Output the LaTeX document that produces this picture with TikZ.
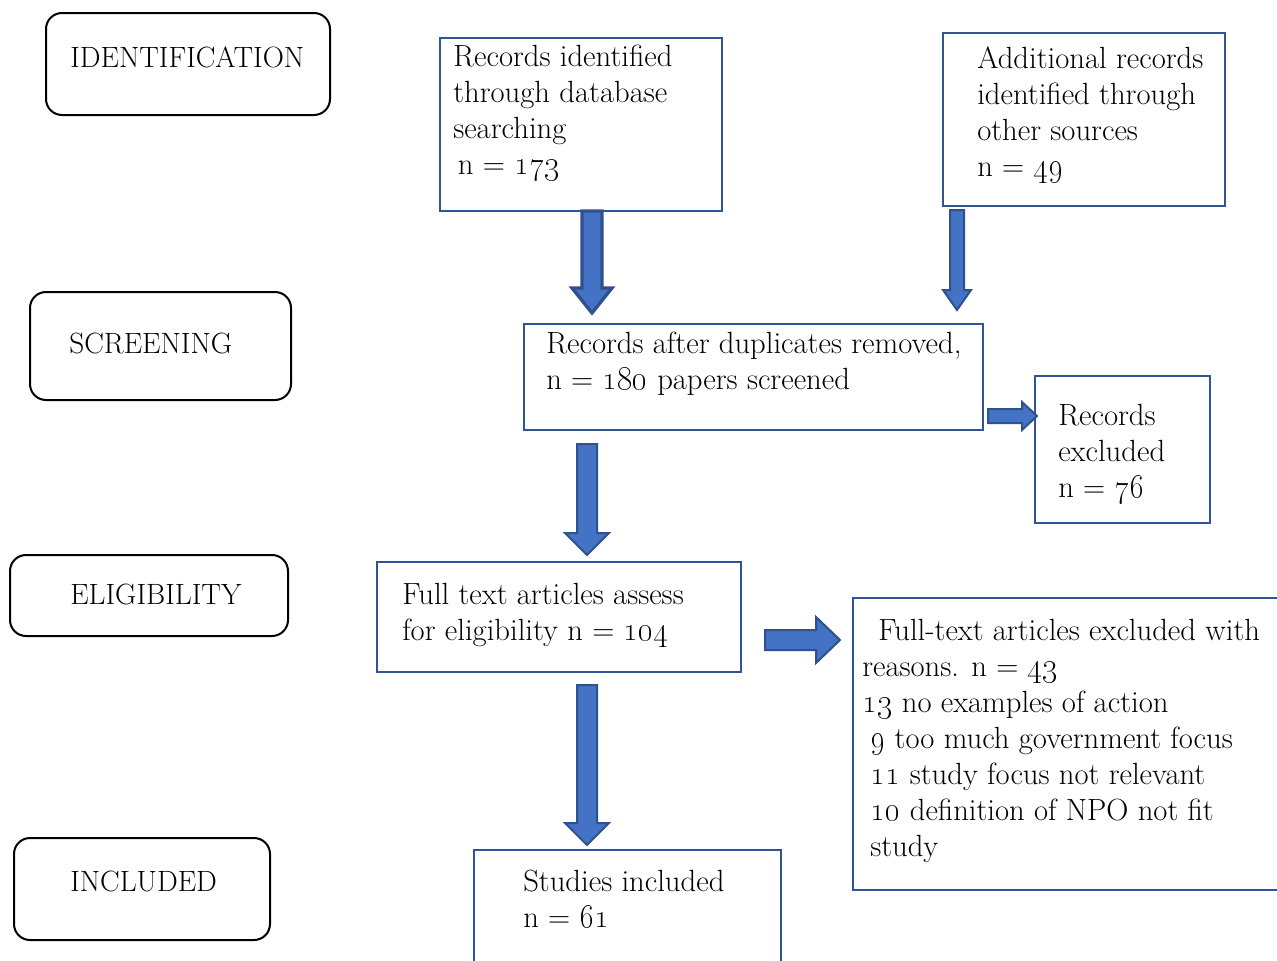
\documentclass[tikz,border=0pt]{standalone}
\usetikzlibrary{calc}

\definecolor{frameblue}{RGB}{47,85,151}
\definecolor{arrowfill}{RGB}{68,114,196}
\definecolor{arrowedge}{RGB}{47,82,143}

\newcommand\osn[1]{\oldstylenums{#1}}

% block arrow: [options]{start}{end}{shaft half width}{head half width}{head length}
\newcommand\blockarrow[6][]{%
  \path ($(#3)!#6!(#2)$) coordinate (ba-h);
  \draw[blockarrow,#1] ($(#2)!#4!90:(#3)$) -- ($(ba-h)!#4!-90:(#2)$)
    -- ($(ba-h)!#5!-90:(#2)$) -- (#3) -- ($(ba-h)!#5!90:(#2)$)
    -- ($(ba-h)!#4!90:(#2)$) -- ($(#2)!#4!-90:(#3)$) -- cycle;
}

% text blocks are placed by the baseline of their last line
\tikzset{
  stage/.style={draw=black, line width=1.5pt, rounded corners=12pt, inner sep=0pt},
  flowbox/.style={draw=frameblue, line width=1.5pt, inner sep=0pt},
  txt/.style={anchor=base west, inner sep=0pt, align=left,
    font=\fontsize{23}{27}\selectfont},
  stagetxt/.style={txt, font=\fontsize{22}{27}\selectfont},
  blockarrow/.style={fill=arrowfill, draw=arrowedge, line width=1.5pt, line join=miter},
}

\begin{document}
\begin{tikzpicture}[x=0.75pt, y=-0.75pt]
\useasboundingbox (0,0) rectangle (1277,960);
\clip (0,0) rectangle (1277,960);

% stage labels
\node[stage, minimum width=213pt, minimum height=76.5pt] (sId) at (188,64) {};
\node[stage, minimum width=195.75pt, minimum height=81pt] (sScr) at (160.5,346) {};
\node[stage, minimum width=208.5pt, minimum height=60.75pt] (sElig) at (149,595.5) {};
\node[stage, minimum width=192pt, minimum height=76.5pt] (sInc) at (142,889) {};
\node[stagetxt] (tId) at (70,67) {IDENTIFICATION};
\node[stagetxt] (tScr) at (69,353) {SCREENING};
\node[stagetxt] (tElig) at (70,604) {ELIGIBILITY};
\node[stagetxt] (tInc) at (70,891) {INCLUDED};

% flow boxes
\node[flowbox, minimum width=211.5pt, minimum height=129.75pt] (A) at (581,124.5) {};
\node[flowbox, minimum width=211.5pt, minimum height=129.75pt] (B) at (1084,119.5) {};
\node[flowbox, minimum width=344.25pt, minimum height=79.5pt] (C) at (753.5,377) {};
\node[flowbox, minimum width=131.25pt, minimum height=110.25pt] (D) at (1122.5,449.5) {};
\node[flowbox, minimum width=273pt, minimum height=82.5pt] (E) at (559,617) {};
\node[flowbox, minimum width=327.75pt, minimum height=219pt] (F) at (1071.5,744) {};
\node[flowbox, minimum width=230.25pt, minimum height=112.5pt] (G) at (627.5,925) {};

% box texts
\node[txt] (tA) at (453,174) {Records identified\\through database\\searching\\\hspace*{3.5pt}n = \osn{173}};
\node[txt] (tB) at (977,176) {Additional records\\identified through\\other sources\\n = \osn{49}};
\node[txt] (tC) at (546,389) {Records after duplicates removed,\\n = \osn{180} papers screened};
\node[txt] (tD) at (1058,497) {Records\\excluded\\n = \osn{76}};
\node[txt] (tE) at (402,640) {Full text articles assess\\for eligibility n = \osn{104}};
\node[txt] (tF) at (862,856) {\hspace*{12pt}Full-text articles excluded with\\reasons. n = \osn{43}\\\osn{13} no examples of action\\\hspace*{6pt}\osn{9} too much government focus\\\hspace*{6pt}\osn{11} study focus not relevant\\\hspace*{6pt}\osn{10} definition of NPO not fit\\\hspace*{6pt}study};
\node[txt] (tG) at (523,927) {Studies included\\n = \osn{61}};

% arrow end points
\coordinate (a1s) at (592,211);  \coordinate (a1e) at (592,313);
\coordinate (a2s) at (957,210);  \coordinate (a2e) at (957,310);
\coordinate (a3s) at (988,416);  \coordinate (a3e) at (1037,416);
\coordinate (a4s) at (765,640);  \coordinate (a4e) at (840,640);
\coordinate (a5s) at (587,444);  \coordinate (a5e) at (587,555);
\coordinate (a6s) at (587,685);  \coordinate (a6e) at (587,845);

% block arrows
\blockarrow[line width=2.5pt]{a1s}{a1e}{7.5pt}{15pt}{18.75pt}
\blockarrow{a2s}{a2e}{5.25pt}{10.5pt}{15pt}
\blockarrow{a3s}{a3e}{5.25pt}{10.5pt}{11.25pt}
\blockarrow{a4s}{a4e}{7.5pt}{17.25pt}{18pt}
\blockarrow{a5s}{a5e}{7.5pt}{16.5pt}{16.5pt}
\blockarrow{a6s}{a6e}{7.5pt}{16.5pt}{16.5pt}
\end{tikzpicture}
\end{document}
